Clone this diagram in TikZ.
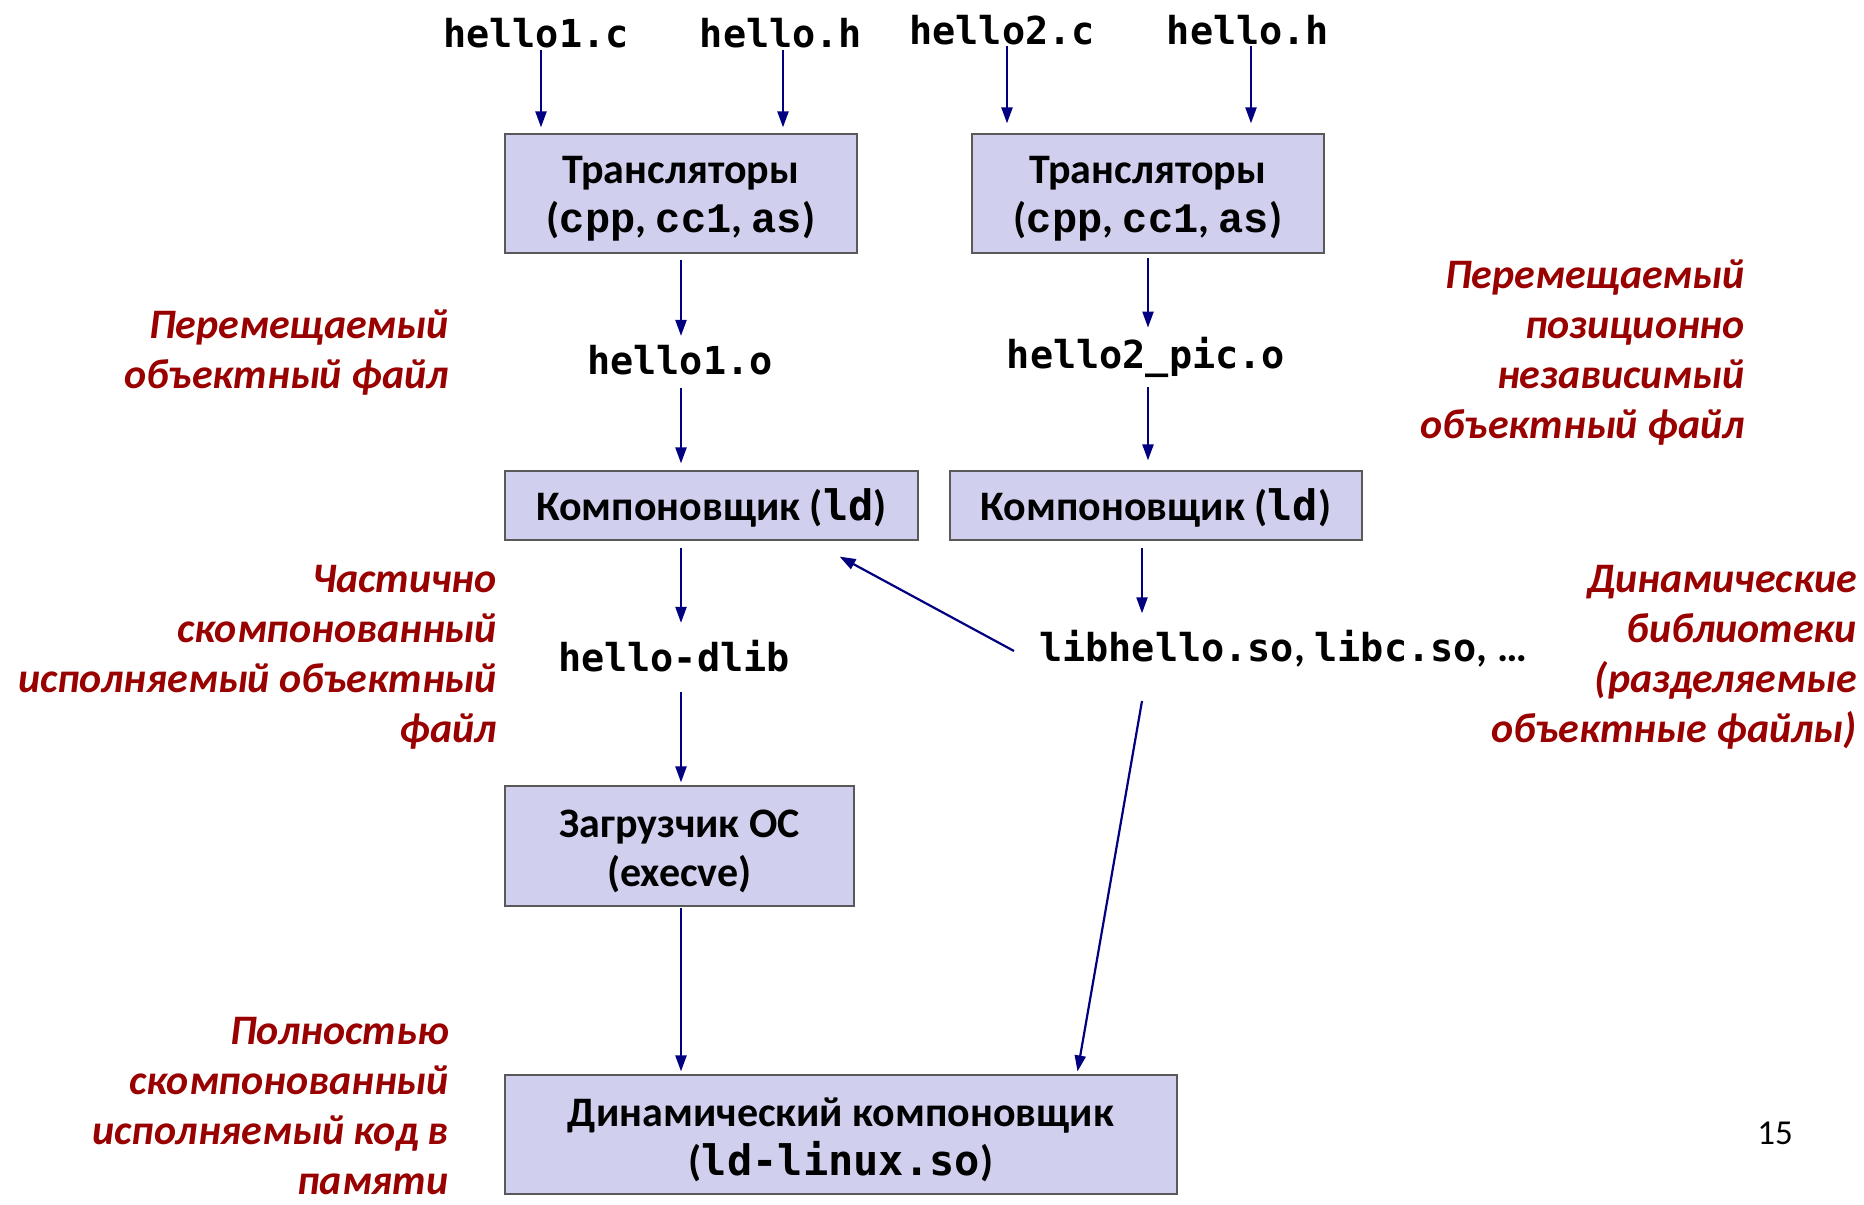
\documentclass[tikz,border=0pt]{standalone}
\usepackage{fontspec}
\setmainfont{Carlito}
\newfontfamily\dmono{DejaVu Sans Mono}
\newfontfamily\cmono{Liberation Mono}
\usetikzlibrary{arrows.meta}
\definecolor{boxfill}{RGB}{208,208,238}
\definecolor{navyline}{RGB}{0,0,128}
\definecolor{lblred}{RGB}{153,0,0}
\tikzset{
  box/.style={draw=black!65, line width=1.2pt, fill=boxfill, inner sep=0},
  boxtext/.style={align=center, font=\fontsize{42}{49}\selectfont\bfseries, inner sep=0},
  file/.style={font=\fontsize{38.5}{46}\selectfont\dmono\bfseries, inner sep=0},
  lbl/.style={font=\fontsize{42}{50}\selectfont\bfseries\itshape, text=lblred, align=right, inner sep=0},
  arr/.style={draw=navyline, line width=2.2pt, -{Triangle[length=16pt,width=11pt]}},
}
\begin{document}
\begin{tikzpicture}[x=1pt,y=-1pt]
\useasboundingbox (0,0) rectangle (1864,1205);
% source files
\node[file] (h1c) at (536,33) {hello1.c};
\node[file] (hh1) at (781,33) {hello.h};
\node[file] (h2c) at (1002,30) {hello2.c};
\node[file] (hh2) at (1248,30) {hello.h};
% boxes
\node[box, minimum width=352pt, minimum height=119pt] (tr1) at (681,193.5) {};
\node[boxtext] (tr1t) at ([yshift=-5pt]tr1.center)
  {Трансляторы\\({\cmono cpp}, {\cmono cc1}, {\cmono as})};
\node[box, minimum width=352pt, minimum height=119pt] (tr2) at (1148,193.5) {};
\node[boxtext] (tr2t) at ([yshift=-5pt]tr2.center)
  {Трансляторы\\({\cmono cpp}, {\cmono cc1}, {\cmono as})};
\node[file] (h1o) at (680,360) {hello1.o};
\node[file] (h2o) at (1146,357) {hello2\_pic.o};
\node[box, minimum width=413pt, minimum height=69pt] (ldL) at (711.5,505.5) {};
\node[boxtext] (ldLt) at ([yshift=-2pt]ldL.center) {Компоновщик ({\dmono ld})};
\node[box, minimum width=412pt, minimum height=69pt] (ldR) at (1156,505.5) {};
\node[boxtext] (ldRt) at ([yshift=-2pt]ldR.center) {Компоновщик ({\dmono ld})};
\node[file] (dlib) at (674,656) {hello-dlib};
\node[file, anchor=west] (lib) at (1039,649) {libhello.so{\rmfamily\fontsize{42}{49}\selectfont, }libc.so{\rmfamily\fontsize{42}{49}\selectfont, …}};
\node[box, minimum width=349pt, minimum height=120pt] (loader) at (679.5,846) {};
\node[boxtext] (loadert) at ([yshift=-5pt]loader.center) {Загрузчик ОС\\(execve)};
\node[box, minimum width=672pt, minimum height=119pt] (dyn) at (841,1134.5) {};
\node[boxtext] (dynt) at ([yshift=-5pt]dyn.center)
  {Динамический компоновщик\\({\dmono ld-linux.so})};
% labels
\node[lbl, anchor=east] (l1) at (449,352.5) {Перемещаемый\\объектный файл};
\node[lbl, anchor=east] (l2) at (497,657) {Частично\\скомпонованный\\исполняемый объектный\\файл};
\node[lbl, anchor=east] (l3) at (449,1106) {Полностью\\скомпонованный\\исполняемый код в\\памяти};
\node[lbl, anchor=east] (r1) at (1745,352.5) {Перемещаемый\\позиционно\\независимый\\объектный файл};
\node[lbl, anchor=east] (r2) at (1857,657) {Динамические\\библиотеки\\(разделяемые\\объектные файлы)};
\node[font=\fontsize{35}{40}\selectfont, inner sep=0] (pg) at (1775,1133) {15};
% arrows
\draw[arr, shorten <=2pt, shorten >=6pt] ([xshift=5pt]h1c.south) -- ([xshift=5pt]h1c.south |- tr1.north);
\draw[arr, shorten <=2pt, shorten >=6pt] ([xshift=2pt]hh1.south) -- ([xshift=2pt]hh1.south |- tr1.north);
\draw[arr, shorten <=1pt, shorten >=10pt] ([xshift=5pt]h2c.south) -- ([xshift=5pt]h2c.south |- tr2.north);
\draw[arr, shorten <=1pt, shorten >=10pt] ([xshift=3pt]hh2.south) -- ([xshift=3pt]hh2.south |- tr2.north);
\draw[arr, shorten <=6pt, shorten >=9pt] (tr1.south) -- (tr1.south |- h1o.north);
\draw[arr, shorten <=13pt, shorten >=7pt] (tr1.south |- h1o.south) -- (tr1.south |- ldL.north);
\draw[arr, shorten <=4pt, shorten >=9pt] (tr2.south) -- (tr2.south |- h2o.north);
\draw[arr, shorten <=10pt, shorten >=10pt] (tr2.south |- h2o.south) -- (tr2.south |- ldL.north);
\draw[arr, shorten <=7pt, shorten >=17pt] ([xshift=-6pt]tr2.south |- ldR.south) -- ([xshift=-6pt]tr2.south |- lib.north);
\draw[arr, shorten <=7pt, shorten >=17pt] (tr1.south |- ldL.south) -- (tr1.south |- dlib.north);
\draw[arr, shorten <=20pt, shorten >=3pt] (tr1.south |- dlib.south) -- (tr1.south |- loader.north);
\draw[arr, shorten <=1pt, shorten >=3pt] (tr1.south |- loader.south) -- (tr1.south |- dyn.north);
\draw[arr] ([xshift=-25pt,yshift=-2pt]lib.west) -- ([xshift=-79pt,yshift=-16pt]ldL.south east);
\draw[arr, shorten >=3pt] ([xshift=103pt,yshift=-52pt]lib.west) -- ([xshift=236pt]dyn.north);
\end{tikzpicture}
\end{document}
